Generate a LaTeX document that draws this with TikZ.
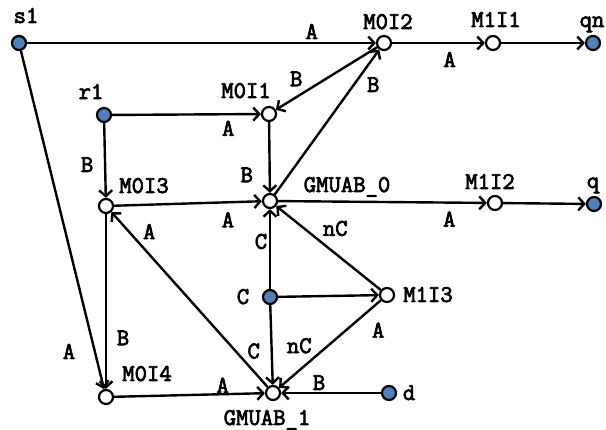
\documentclass[tikz,border=0pt]{standalone}
\usepackage{fontspec}
\newfontfamily\lblfont{Latin Modern Mono}[FakeBold=3]
\usetikzlibrary{arrows.meta}
\definecolor{nodeblue}{RGB}{79,129,189}
\begin{document}
\begin{tikzpicture}[x=1pt,y=-1pt,
  every node/.style={font=\lblfont\fontsize{24}{26}\selectfont},
  pnode/.style={circle, draw, line width=2.2pt, minimum size=14pt, inner sep=0pt, fill=white},
  src/.style={pnode, fill=nodeblue},
  lbl/.style={inner sep=0pt, text height=14pt, text depth=0pt},
  arc/.style={line width=2.4pt, -{Straight Barb[length=6pt,width=13pt]}},
  plain/.style={line width=2.4pt}]
\useasboundingbox (0,0) rectangle (606,430);
% places
\node[src]   (s1)   at (19,43)  {};
\node[pnode] (M0I2) at (384,43) {};
\node[pnode] (M1I1) at (493,43) {};
\node[src]   (qn)   at (593,43) {};
\node[src]   (r1)   at (104,115) {};
\node[pnode] (M0I1) at (269,114) {};
\node[pnode] (M0I3) at (106,206) {};
\node[pnode] (G0)   at (270,201) {};
\node[pnode] (M1I2) at (495,203) {};
\node[src]   (q)    at (594,204) {};
\node[src]   (C)    at (270,297) {};
\node[pnode] (M1I3) at (387,295) {};
\node[pnode] (M0I4) at (106,397) {};
\node[pnode] (G1)   at (273,393) {};
\node[src]   (d)    at (389,393) {};
% place names
\node[lbl] (s1t)   at (26,16)  {s1};
\node[lbl] (M0I2t) at (388,22) {M0I2};
\node[lbl] (M1I1t) at (496,20) {M1I1};
\node[lbl] (qnt)   at (592,20) {qn};
\node[lbl] (r1t)   at (91,92)  {r1};
\node[lbl] (M0I1t) at (246,91) {M0I1};
\node[lbl] (M0I3t) at (144,186) {M0I3};
\node[lbl] (G0t)   at (347,185) {GMUAB\_0};
\node[lbl] (M1I2t) at (490,182) {M1I2};
\node[lbl] (qt)    at (593,181) {q};
\node[lbl] (Ct)    at (243,297) {C};
\node[lbl] (M1I3t) at (428,295) {M1I3};
\node[lbl] (M0I4t) at (147,374) {M0I4};
\node[lbl] (G1t)   at (267,418) {GMUAB\_1};
\node[lbl] (dt)    at (409,393) {d};
% arcs
\draw[arc] (s1) -- node[lbl, pos=0.816, shift={(0,-11)}] {A} (M0I2);
\draw[arc] (s1) -- node[lbl, pos=0.89, shift={(-26,0)}] {A} (M0I4);
\draw[arc] (M0I2) -- node[lbl, pos=0.62, shift={(0,17)}] {A} (M1I1);
\draw[arc] (M1I1) -- (qn);
\draw[arc] (M0I2) -- node[lbl, pos=0.72, shift={(-8,-13)}] {B} (M0I1);
\draw[arc] (G0) -- node[lbl, pos=0.818, shift={(13,9)}] {B} (M0I2);
\draw[arc] (r1) -- node[lbl, pos=0.78, shift={(0,14.5)}] {A} (M0I1);
\draw[arc] (r1) -- node[lbl, pos=0.56, shift={(-18,0)}] {B} (M0I3);
\draw[arc] (M0I1) -- node[lbl, pos=0.75, shift={(-23,0)}] {B} (G0);
\draw[arc] (M0I3) -- node[lbl, pos=0.77, shift={(0,18)}] {A} (G0);
\draw[arc] (G0) -- node[lbl, pos=0.82, shift={(0,17)}] {A} (M1I2);
\draw[arc] (M1I2) -- (q);
\draw[arc] (C) -- node[lbl, pos=0.59, shift={(-9,0)}] {C} (G0);
\draw[arc] (M1I3) -- node[lbl, pos=0.55, shift={(12,-15)}] {nC} (G0);
\draw[arc] (C) -- (M1I3);
\draw[arc] (C) -- node[lbl, pos=0.58, shift={(-18,0)}] {C} (G1);
\draw[arc] (M1I3) -- node[lbl, pos=0.164, shift={(14,16)}] {A}
                     node[lbl, pos=0.684, shift={(-12,-14)}] {nC} (G1);
\draw[arc] (G1) -- node[lbl, pos=0.828, shift={(11,-10)}] {A} (M0I3);
\draw[arc] (M0I3) -- node[lbl, pos=0.71, shift={(17,0)}] {B} (M0I4);
\draw[arc] (M0I4) -- node[lbl, pos=0.72, shift={(0,-8.5)}] {A} (G1);
\draw[arc] (d) -- node[lbl, pos=0.62, shift={(0,-10)}] {B} (G1);
\end{tikzpicture}
\end{document}
